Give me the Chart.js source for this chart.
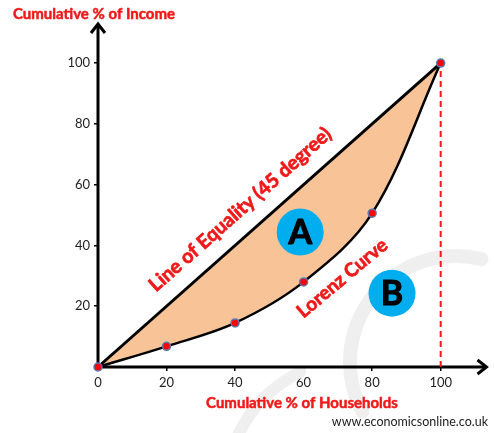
<!DOCTYPE html>
<html>
<head>
<meta charset="utf-8">
<script src="https://cdn.jsdelivr.net/npm/chart.js@4.4.0/dist/chart.umd.min.js"></script>
<style>
  html, body { margin: 0; padding: 0; background: #fff; }
  #wrap { width: 494px; height: 433px; }
</style>
</head>
<body>
<div id="wrap"><canvas id="lorenzChart"></canvas></div>
<script>
// Dados do gráfico
const households = [0, 20, 40, 60, 80, 100];
const lorenzIncome = [0, 6.8, 14.5, 28, 50.6, 100];
const equalityX = [0, 100];
const equalityY = [0, 100];
const xTicks = [0, 20, 40, 60, 80, 100];
const yTicks = [20, 40, 60, 80, 100];

const FONT = 'Lato, "Open Sans", sans-serif';
const RED = '#f01919';

function toPoints(xs, ys) {
    return xs.map((x, i) => ({ x: x, y: ys[i] }));
}

// texto um pouco mais grosso (parecido com Calibri bold)
function heavyText(ctx, text, x, y, w) {
    ctx.lineWidth = w;
    ctx.strokeStyle = ctx.fillStyle;
    ctx.lineJoin = 'round';
    ctx.strokeText(text, x, y);
    ctx.fillText(text, x, y);
}

/**
 * Desenha marca d'água, eixos com setas e os rótulos do gráfico.
 */
const decorPlugin = {
    id: 'decor',
    beforeDatasetsDraw(chart) {
        const ctx = chart.ctx;
        const a = chart.chartArea;
        ctx.save();
        // marca d'água clarinha
        ctx.strokeStyle = '#efefef';
        ctx.lineCap = 'round';
        ctx.lineWidth = 14;
        ctx.beginPath();
        ctx.arc(456, 362, 106, -76 * Math.PI / 180, 152 * Math.PI / 180, true);
        ctx.stroke();
        ctx.lineWidth = 12;
        ctx.beginPath();
        ctx.moveTo(300, 372);
        ctx.quadraticCurveTo(255, 395, 236, 440);
        ctx.stroke();

        // eixos
        ctx.strokeStyle = '#000';
        ctx.fillStyle = '#000';
        ctx.lineWidth = 3;
        ctx.lineCap = 'butt';
        ctx.beginPath();
        ctx.moveTo(a.left, a.bottom + 1.5);
        ctx.lineTo(a.left, a.top + 2);
        ctx.moveTo(a.left - 1.5, a.bottom);
        ctx.lineTo(a.right - 2, a.bottom);
        ctx.stroke();
        ctx.lineJoin = 'miter';
        ctx.beginPath();
        ctx.moveTo(a.left - 7, a.top + 11);
        ctx.lineTo(a.left, a.top + 2);
        ctx.lineTo(a.left + 7, a.top + 11);
        ctx.moveTo(a.right - 11, a.bottom - 7);
        ctx.lineTo(a.right - 2, a.bottom);
        ctx.lineTo(a.right - 11, a.bottom + 7);
        ctx.stroke();
        ctx.restore();
    },
    afterDraw(chart) {
        const ctx = chart.ctx;
        const x = chart.scales.x;
        const y = chart.scales.y;
        ctx.save();

        // títulos dos eixos
        ctx.fillStyle = RED;
        ctx.font = 'bold 15px ' + FONT;
        ctx.textBaseline = 'middle';
        ctx.textAlign = 'left';
        heavyText(ctx, 'Cumulative % of Income', 13, 14, 0.5);
        ctx.textAlign = 'center';
        heavyText(ctx, 'Cumulative % of Households', 302, 403, 0.5);

        ctx.fillStyle = '#222';
        ctx.font = '12.5px ' + FONT;
        ctx.textAlign = 'right';
        ctx.fillText('www.economicsonline.co.uk', 488, 422);

        // textos inclinados
        const angle = Math.atan2(y.getPixelForValue(0) - y.getPixelForValue(100),
                                 x.getPixelForValue(100) - x.getPixelForValue(0));
        ctx.fillStyle = RED;
        ctx.font = 'bold 19.5px ' + FONT;
        ctx.textAlign = 'center';
        ctx.save();
        ctx.translate(x.getPixelForValue(41.5), y.getPixelForValue(51.8));
        ctx.rotate(-angle);
        heavyText(ctx, 'Line of Equality (45 degree)', 0, 0, 0.7);
        ctx.restore();
        ctx.font = 'bold 19px ' + FONT;
        ctx.save();
        ctx.translate(x.getPixelForValue(71.3), y.getPixelForValue(29.2));
        ctx.rotate(-40 * Math.PI / 180);
        heavyText(ctx, 'Lorenz Curve', 0, 0, 0.7);
        ctx.restore();

        // círculos A e B
        [['A', 59, 44.4], ['B', 85.8, 24.3]].forEach(([label, vx, vy]) => {
            const cx = x.getPixelForValue(vx);
            const cy = y.getPixelForValue(vy);
            ctx.fillStyle = '#00aeef';
            ctx.beginPath();
            ctx.arc(cx, cy, 23.5, 0, Math.PI * 2);
            ctx.fill();
            ctx.fillStyle = '#000';
            ctx.font = 'bold 34px ' + FONT;
            ctx.textAlign = 'center';
            ctx.textBaseline = 'middle';
            heavyText(ctx, label, cx, cy + 1, 1);
        });
        ctx.restore();
    }
};

function initLorenzChart() {
    const ctx = document.getElementById('lorenzChart');
    if (!ctx) return;

    new Chart(ctx.getContext('2d'), {
        type: 'line',
        data: {
            datasets: [{
                label: 'Line of Equality',
                data: toPoints(equalityX, equalityY),
                borderColor: '#000',
                borderWidth: 3,
                pointRadius: 0,
                backgroundColor: '#f8c497',
                fill: '+1',
                clip: false,
                order: 2
            }, {
                label: 'Lorenz Curve',
                data: toPoints(households, lorenzIncome),
                borderColor: '#000',
                borderWidth: 2.5,
                tension: 0.35,
                pointRadius: 4,
                pointBackgroundColor: '#ff0000',
                pointBorderColor: '#5a78b4',
                pointBorderWidth: 1.5,
                fill: false,
                clip: false,
                order: 1
            }, {
                label: '100%',
                data: toPoints([100, 100], [0, 100]),
                borderColor: RED,
                borderWidth: 2,
                borderDash: [6, 4],
                pointRadius: 0,
                fill: false,
                clip: false,
                order: 3
            }]
        },
        options: {
            responsive: true,
            maintainAspectRatio: false,
            animation: false,
            layout: { padding: { top: 22, right: 4, left: 0, bottom: 0 } },
            plugins: { legend: { display: false }, tooltip: { enabled: false } },
            scales: {
                x: {
                    type: 'linear',
                    min: 0,
                    max: 113.95,
                    afterBuildTicks: s => { s.ticks = xTicks.map(v => ({ value: v })); },
                    afterFit: s => { s.height = 66; },
                    border: { display: false },
                    grid: { drawOnChartArea: false, drawTicks: true, tickLength: 4, color: '#000', lineWidth: 1.5 },
                    ticks: { padding: 4, color: '#222', font: { family: FONT, size: 13 }, maxRotation: 0 }
                },
                y: {
                    type: 'linear',
                    min: 0,
                    max: 113.5,
                    afterBuildTicks: s => { s.ticks = yTicks.map(v => ({ value: v })); },
                    afterFit: s => { s.width = 98; },
                    border: { display: false },
                    grid: { drawOnChartArea: false, drawTicks: true, tickLength: 4, color: '#000', lineWidth: 1.5 },
                    ticks: { padding: 4, color: '#222', font: { family: FONT, size: 13 } }
                }
            }
        },
        plugins: [decorPlugin]
    });
}

document.addEventListener('DOMContentLoaded', initLorenzChart);
</script>
</body>
</html>
